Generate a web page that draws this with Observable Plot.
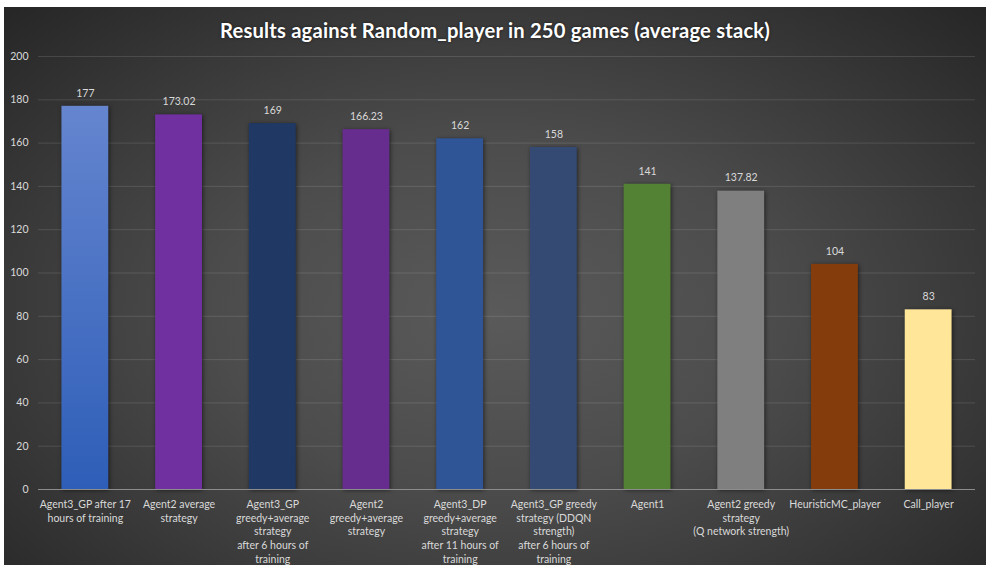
<!DOCTYPE html>
<html><head><meta charset="utf-8">
<script src="https://cdn.jsdelivr.net/npm/d3@7"></script>
<script src="https://cdn.jsdelivr.net/npm/@observablehq/plot@0.6"></script>
<style>
html,body{margin:0;padding:0;background:#fff;}
#frame{position:absolute;left:4px;top:7px;width:982px;height:558px;overflow:hidden;
  background:radial-gradient(ellipse farthest-corner at 50% 55%, #5a5a5a 0%, #4c4c4c 40%, #262626 100%);
  font-family:Lato, "Open Sans", sans-serif;}
#title{height:42px;line-height:46px;text-align:center;color:#fff;font-weight:bold;font-size:20.2px;
  text-shadow:0 0 3px rgba(0,0,0,0.6);letter-spacing:0.2px;}
</style>
</head><body>
<div id="frame"><div id="title">Results against Random_player in 250 games (average stack)</div><div id="chart"></div></div>
<script>
const categories = [
  "Agent3_GP after 17\nhours of training",
  "Agent2 average\nstrategy",
  "Agent3_GP\ngreedy+average\nstrategy\nafter 6 hours of\ntraining",
  "Agent2\ngreedy+average\nstrategy",
  "Agent3_DP\ngreedy+average\nstrategy\nafter 11 hours of\ntraining",
  "Agent3_GP greedy\nstrategy (DDQN\nstrength)\nafter 6 hours of\ntraining",
  "Agent1",
  "Agent2 greedy\nstrategy\n(Q network strength)",
  "HeuristicMC_player",
  "Call_player"
];
const values = [177, 173.02, 169, 166.23, 162, 158, 141, 137.82, 104, 83];
const barColors = ["url(#barGrad1)", "#7030A0", "#203864", "#662D8F", "#2F5597", "#344A72", "#548235", "#7F7F7F", "#843C0C", "#FFE699"];
const yTicks = [0, 20, 40, 60, 80, 100, 120, 140, 160, 180, 200];

const data = categories.map((c, i) => ({category: c, value: values[i], color: barColors[i]}));

const chart = Plot.plot({
  width: 982, height: 516,
  marginTop: 7, marginBottom: 76, marginLeft: 34, marginRight: 11,
  style: {background: "transparent", color: "#d9d9d9", fontFamily: "Lato, 'Open Sans', sans-serif", fontSize: "10.5px"},
  x: {domain: categories, paddingInner: 0.5, paddingOuter: 0.25, round: false, label: null},
  y: {domain: [0, 200], label: null},
  color: {type: "identity"},
  marks: [
    Plot.gridY(yTicks.filter(d => d > 0), {stroke: "#ffffff", strokeOpacity: 0.12, strokeWidth: 1}),
    Plot.barY(data, {x: "category", y: "value", fill: "color"}),
    Plot.ruleY([0], {stroke: "#8c8c8c", strokeWidth: 1}),
    Plot.text(data, {x: "category", y: "value", text: d => String(d.value), dy: -13, fill: "#d9d9d9", fontSize: 10.5}),
    Plot.axisY({ticks: yTicks, tickSize: 0, tickPadding: 10, label: null, fill: "#d9d9d9"}),
    Plot.axisX({tickSize: 0, tickPadding: 9, lineHeight: 1.3, label: null, fill: "#d9d9d9"})
  ]
});

const svg = d3.select(chart);
const grad = svg.insert("defs", ":first-child").append("linearGradient")
  .attr("id", "barGrad1").attr("x1", 0).attr("y1", 0).attr("x2", 0).attr("y2", 1);
grad.append("stop").attr("offset", "0%").attr("stop-color", "#6585CF");
grad.append("stop").attr("offset", "100%").attr("stop-color", "#2E5EB8");
svg.selectAll('g[aria-label="bar"]').style("filter", "drop-shadow(1px 1px 2px rgba(0,0,0,0.55))");

document.getElementById("chart").appendChild(chart);
</script>
</body></html>
